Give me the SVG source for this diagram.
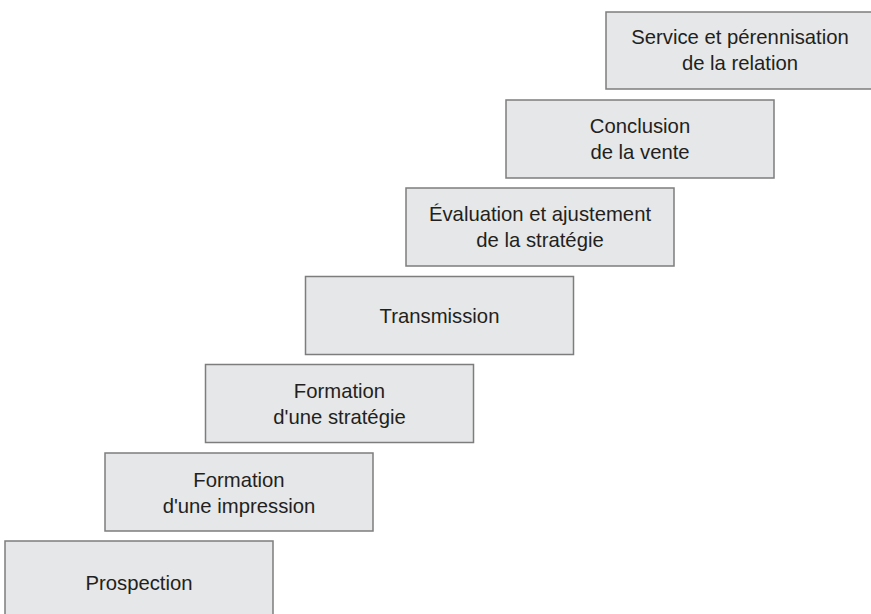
<svg xmlns="http://www.w3.org/2000/svg" width="871" height="614" viewBox="0 0 871 614">
<style>
.box{fill:#e6e7e8;stroke:#7d7d7d;stroke-width:1.5}
.t{font-family:"Liberation Sans",Arial,sans-serif;font-size:20.3px;fill:#231f20;text-anchor:middle}
</style>
<rect width="871" height="614" fill="#ffffff"/>
<g id="n1"><rect class="box" x="5" y="541" width="268" height="80"/><text class="t" x="139" y="590">Prospection</text></g>
<g id="n2"><rect class="box" x="105" y="453" width="268" height="78"/><text class="t" x="239" y="487">Formation</text><text class="t" x="239" y="513">d'une impression</text></g>
<g id="n3"><rect class="box" x="205.5" y="364.5" width="268" height="78"/><text class="t" x="339.5" y="398">Formation</text><text class="t" x="339.5" y="424">d'une stratégie</text></g>
<g id="n4"><rect class="box" x="305.5" y="276.5" width="268" height="78"/><text class="t" x="439.5" y="323">Transmission</text></g>
<g id="n5"><rect class="box" x="406" y="188" width="268" height="78"/><text class="t" x="540" y="221">Évaluation et ajustement</text><text class="t" x="540" y="247">de la stratégie</text></g>
<g id="n6"><rect class="box" x="506" y="100" width="268" height="78"/><text class="t" x="640" y="133">Conclusion</text><text class="t" x="640" y="159">de la vente</text></g>
<g id="n7"><rect class="box" x="606" y="12" width="268" height="77"/><text class="t" x="740" y="44">Service et pérennisation</text><text class="t" x="740" y="70">de la relation</text></g>
<g id="connectors"></g>
</svg>
